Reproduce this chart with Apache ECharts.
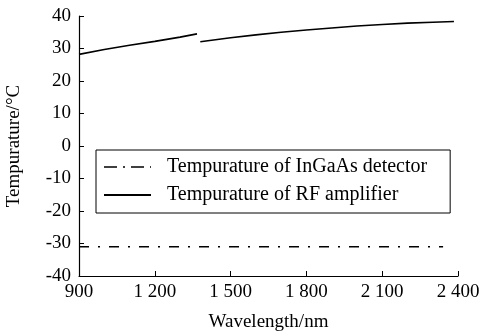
<!DOCTYPE html>
<html>
<head>
<meta charset="utf-8">
<script src="https://cdn.jsdelivr.net/npm/echarts@6/dist/echarts.min.js"></script>
<style>
html,body{margin:0;padding:0;background:#fff;}
#c{width:481px;height:333px;}
</style>
</head>
<body>
<div id="c"></div>
<script>
var xTicks = [900, 1200, 1500, 1800, 2100, 2400];
var yTicks = [-40, -30, -20, -10, 0, 10, 20, 30, 40];
var seriesNames = ['Tempurature of InGaAs detector', 'Tempurature of RF amplifier'];
var rfWave = [900, 1000, 1100, 1200, 1300, 1367, 1373, 1380, 1500, 1600, 1700, 1800, 1900, 2000, 2100, 2200, 2300, 2384];
var rfTemp = [28.2, 29.7, 31.0, 32.2, 33.5, 34.5, null, 32.1, 33.3, 34.2, 35.0, 35.7, 36.3, 36.9, 37.4, 37.8, 38.1, 38.3];
var detWave = [900, 2341];
var detTemp = [-31.0, -31.0];

function pairs(xs, ys){ return xs.map(function(x,i){ return [x, ys[i]]; }); }
function fmtThousands(v){
  var s = String(Math.abs(v));
  if (s.length > 3) s = s.slice(0, s.length-3) + ' ' + s.slice(s.length-3);
  return (v < 0 ? '-' : '') + s;
}
var serif = 'Liberation Serif';
var chart = echarts.init(document.getElementById('c'));
chart.setOption({
  animation: false,
  backgroundColor: '#fff',
  textStyle: {fontFamily: serif, color: '#000'},
  grid: {left: 79, right: 23, top: 16, bottom: 57, containLabel: false, outerBoundsMode: 'none'},
  legend: {
    left: 96, top: 150,
    orient: 'vertical',
    padding: [7, 23, 8, 7],
    itemGap: 8,
    itemWidth: 47,
    itemHeight: 14,
    borderColor: '#000',
    borderWidth: 1,
    borderRadius: 0,
    itemStyle: {opacity: 0},
    textStyle: {fontFamily: serif, fontSize: 20, lineHeight: 20, color: '#000', padding: [0, 0, 0, 11]},
    data: [
      {name: seriesNames[0], lineStyle: {type: [13, 6, 2, 6], width: 1.3, color: '#000'}},
      {name: seriesNames[1]}
    ]
  },
  xAxis: {
    type: 'value', min: xTicks[0], max: xTicks[xTicks.length-1], interval: 300,
    name: 'Wavelength/nm', nameLocation: 'middle', nameGap: 37,
    nameTextStyle: {fontFamily: serif, fontSize: 19, color: '#000'},
    axisLine: {onZero: false, lineStyle: {color: '#000', width: 1.2}},
    axisTick: {inside: true, length: 5, lineStyle: {color: '#000'}},
    axisLabel: {fontFamily: serif, fontSize: 19, color: '#000', margin: 7, formatter: fmtThousands},
    splitLine: {show: false}
  },
  yAxis: {
    type: 'value', min: yTicks[0], max: yTicks[yTicks.length-1], interval: 10,
    name: 'Tempurature/\u00B0C', nameLocation: 'middle', nameGap: 55,
    nameTextStyle: {fontFamily: serif, fontSize: 19, color: '#000'},
    axisLine: {show: true, onZero: false, lineStyle: {color: '#000', width: 1.2}},
    axisTick: {show: true, inside: true, length: 5, lineStyle: {color: '#000'}},
    axisLabel: {fontFamily: serif, fontSize: 19, color: '#000', margin: 8},
    splitLine: {show: false}
  },
  series: [
    {
      name: seriesNames[0], type: 'line', symbol: 'none',
      data: pairs(detWave, detTemp),
      lineStyle: {color: '#000', width: 1.3, type: [10, 9, 2, 9]},
      itemStyle: {color: '#000'}
    },
    {
      name: seriesNames[1], type: 'line', symbol: 'none', smooth: false, connectNulls: false,
      data: pairs(rfWave, rfTemp),
      lineStyle: {color: '#000', width: 1.6},
      itemStyle: {color: '#000'}
    }
  ]
});
</script>
</body>
</html>
